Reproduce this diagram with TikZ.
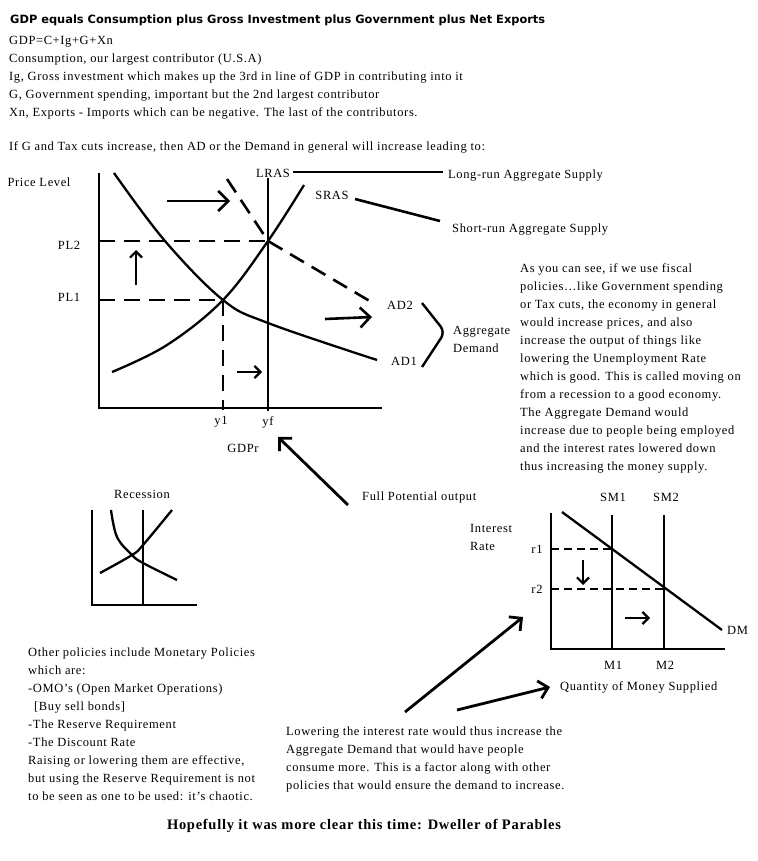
\documentclass[tikz,border=0pt]{standalone}
\usepackage{fontspec}
\setmainfont{Liberation Serif}[LetterSpace=5]
\newfontfamily\headfont{DejaVu Sans}
\usetikzlibrary{arrows.meta}
\begin{document}
\begin{tikzpicture}[x=1pt,y=-1pt,
  txt/.style={inner sep=0pt, font=\fontsize{12.5}{18}\selectfont, align=left},
  lbl/.style={inner sep=0pt, font=\fontsize{12.5}{15}\selectfont},
  axisline/.style={line width=2.6pt},
  curveline/.style={line width=2.3pt},
  dashline/.style={line width=2.6pt, dash pattern=on 16pt off 9pt},
  smalldash/.style={line width=2.2pt, dash pattern=on 8pt off 5pt},
  bigarr/.style={line width=2.6pt, -{Straight Barb[length=10pt,width=20pt]}},
  smallarr/.style={line width=2.2pt, -{Straight Barb[length=6pt,width=12pt]}},
  pointer/.style={line width=2.8pt, -{Straight Barb[length=9pt,width=18pt]}}
]
\useasboundingbox[fill=white] (0,0) rectangle (757,861);

% ---------- top text ----------
\node[anchor=base west, inner sep=0pt, font=\headfont\bfseries\fontsize{11.4}{13}\selectfont] (head) at (10,24)
  {GDP equals Consumption plus Gross Investment plus Government plus Net Exports};
\node[txt, anchor=north west] (defs) at (9,36)
  {GDP=C+Ig+G+Xn\\
   Consumption, our largest contributor (U.S.A)\\
   Ig, Gross investment which makes up the 3rd in line of GDP in contributing into it\\
   G, Government spending, important but the 2nd largest contributor\\
   Xn, Exports - Imports which can be negative. The last of the contributors.};
\node[txt, anchor=base west] (ifg) at (9,151)
  {If G and Tax cuts increase, then AD or the Demand in general will increase leading to:};

% ---------- main AD/AS graph ----------
\draw[axisline] (99,173) -- (99,408) -- (382,408);
\draw[axisline] (268,178) -- (268,411);
% SRAS
\draw[curveline] plot[smooth, tension=0.6] coordinates {(112,372) (167,345) (223,300) (268,241) (304,185)};
% AD1
\draw[curveline] plot[smooth, tension=0.6] coordinates {(114,173) (165,241) (223,300) (268,323) (377,360)};
% AD2 dashed
\draw[dashline] (227,179) -- (268,241) -- (373,303);
% price levels
\draw[dashline] (99,241) -- (268,241);
\draw[dashline] (99,300) -- (223,300);
\draw[dashline] (223,300) -- (223,410);

\node[lbl] (pricelevel) at (39,182) {Price Level};
\node[lbl] (pl2) at (69,245) {PL2};
\node[lbl] (pl1) at (69,297) {PL1};
\node[lbl] (y1) at (221,422) {y1};
\node[lbl] (yf) at (268,422) {yf};
\node[lbl] (gdpr) at (243,448) {GDPr};
\node[lbl] (lras) at (273,173) {LRAS};
\node[lbl] (sras) at (332,195) {SRAS};
\node[lbl] (ad2) at (400,305) {AD2};
\node[lbl] (ad1) at (404,361) {AD1};
\node[lbl, anchor=west] (lrtext) at (448,176) {Long-run Aggregate Supply};
\node[lbl, anchor=west] (srtext) at (452,230) {Short-run Aggregate Supply};
\node[txt, anchor=north west] (aggd) at (453,326) {Aggregate\\Demand};

\coordinate (lrA) at (293,172);
\coordinate (lrB) at (443,172);
\coordinate (srA) at (355,199);
\coordinate (srB) at (440,221);
\draw[line width=2.8pt] (lrA) -- (lrB);
\draw[line width=2.6pt] (srA) -- (srB);

% brace
\coordinate (brT) at (422,303);
\coordinate (brM) at (445,332);
\coordinate (brB) at (422,367);
\draw[line width=2.4pt, rounded corners=7pt] (brT) -- (brM) -- (brB);

% shift arrows
\coordinate (a1s) at (167,201); \coordinate (a1e) at (230,201);
\draw[bigarr] (a1s) -- (a1e);
\coordinate (a2s) at (136,285); \coordinate (a2e) at (136,250);
\draw[smallarr] (a2s) -- (a2e);
\coordinate (a3s) at (325,319); \coordinate (a3e) at (372,317);
\draw[bigarr] (a3s) -- (a3e);
\coordinate (a4s) at (237,372); \coordinate (a4e) at (262,372);
\draw[smallarr] (a4s) -- (a4e);

% full potential output
\node[lbl, anchor=west] (fpo) at (362,497) {Full Potential output};
\coordinate (fpS) at (348,505); \coordinate (fpE) at (278,437);
\draw[pointer] (fpS) -- (fpE);

% right paragraph
\node[txt, anchor=north west] (para) at (520,263)
  {As you can see, if we use fiscal\\
   policies\ldots like Government spending\\
   or Tax cuts, the economy in general\\
   would increase prices, and also\\
   increase the output of things like\\
   lowering the Unemployment Rate\\
   which is good. This is called moving on\\
   from a recession to a good economy.\\
   The Aggregate Demand would\\
   increase due to people being employed\\
   and the interest rates lowered down\\
   thus increasing the money supply.};

% ---------- recession graph ----------
\node[lbl] (recession) at (142,494) {Recession};
\draw[axisline] (92,510) -- (92,605) -- (197,605);
\draw[axisline] (143,510) -- (143,605);
\draw[curveline] plot[smooth, tension=0.6] coordinates {(111,510) (117,537) (132,555) (143,563) (177,580)};
\draw[curveline] plot[smooth, tension=0.6] coordinates {(100,573) (132,555) (143,545) (172,510)};

% ---------- money market graph ----------
\draw[axisline] (551,513) -- (551,649) -- (725,649);
\draw[axisline] (612,515) -- (612,649);
\draw[axisline] (664,515) -- (664,649);
\draw[curveline] (562,512) -- (722,630);
\draw[smalldash] (551,549) -- (612,549);
\draw[smalldash] (551,589) -- (664,589);
\node[lbl] (sm1) at (613,497) {SM1};
\node[lbl] (sm2) at (666,497) {SM2};
\node[lbl] (m1) at (613,665) {M1};
\node[lbl] (m2) at (665,665) {M2};
\node[lbl] (r1) at (537,549) {r1};
\node[lbl] (r2) at (537,589) {r2};
\node[txt, anchor=north west] (irate) at (470,524) {Interest\\Rate};
\node[lbl, anchor=west] (dm) at (727,630) {DM};
\node[lbl, anchor=west] (qms) at (560,687) {Quantity of Money Supplied};
\coordinate (m1s) at (583,560); \coordinate (m1e) at (583,585);
\draw[smallarr] (m1s) -- (m1e);
\coordinate (m2s) at (625,618); \coordinate (m2e) at (650,618);
\draw[smallarr] (m2s) -- (m2e);

% big arrows to money graph
\coordinate (b1s) at (405,712); \coordinate (b1e) at (523,617);
\draw[pointer] (b1s) -- (b1e);
\coordinate (b2s) at (457,710); \coordinate (b2e) at (550,687);
\draw[pointer] (b2s) -- (b2e);

% ---------- bottom texts ----------
\node[txt, anchor=north west] (other) at (28,648)
  {Other policies include Monetary Policies\\
   which are:\\
   -OMO's (Open Market Operations)\\
   \hspace*{6pt}[Buy sell bonds]\\
   -The Reserve Requirement\\
   -The Discount Rate\\
   Raising or lowering them are effective,\\
   but using the Reserve Requirement is not\\
   to be seen as one to be used: it's chaotic.};
\node[txt, anchor=north west] (lower) at (286,727)
  {Lowering the interest rate would thus increase the\\
   Aggregate Demand that would have people\\
   consume more. This is a factor along with other\\
   policies that would ensure the demand to increase.};
\node[anchor=base, inner sep=0pt, font=\bfseries\fontsize{14.5}{16}\selectfont] (sign) at (364,829)
  {Hopefully it was more clear this time: Dweller of Parables};
\end{tikzpicture}
\end{document}
